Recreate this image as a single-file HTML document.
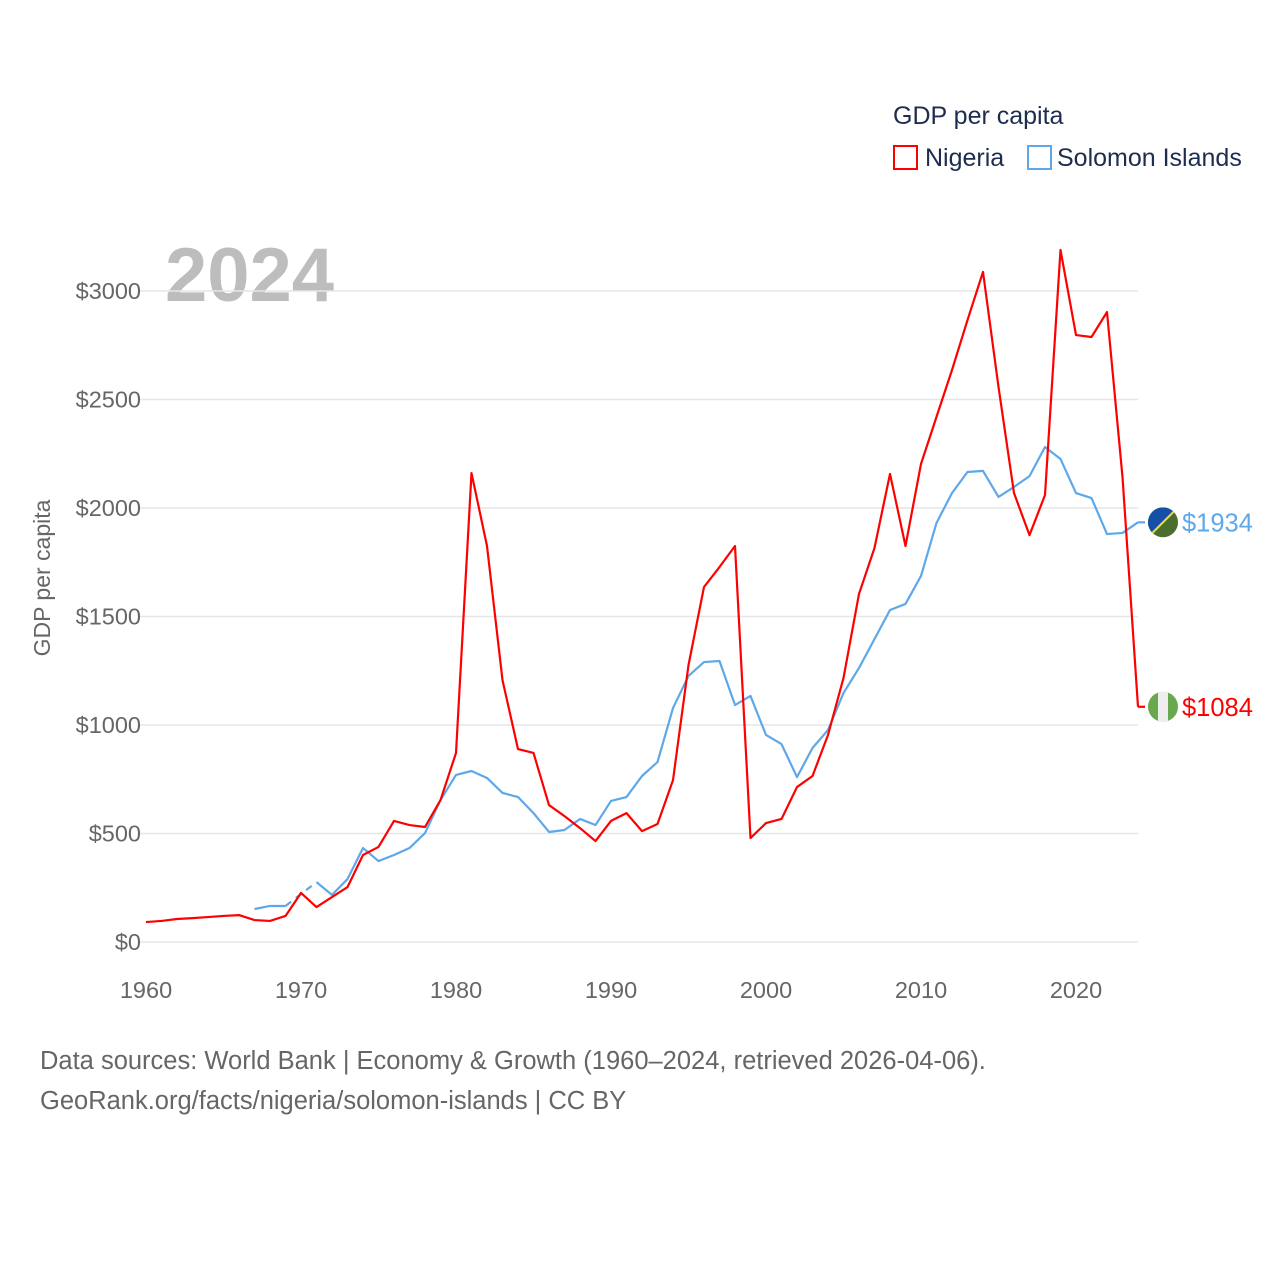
<!DOCTYPE html>
<html><head><meta charset="utf-8"><style>
html,body{margin:0;padding:0;background:#fff;}
body{width:1280px;height:1280px;overflow:hidden;font-family:"Liberation Sans",sans-serif;}
</style></head><body>
<svg id="chart" width="1280" height="1280" xmlns="http://www.w3.org/2000/svg" font-family="Liberation Sans, sans-serif">
<text x="893" y="124" font-size="25" fill="#1d2d4f">GDP per capita</text>
<rect x="894" y="146" width="23" height="23" fill="none" stroke="#ff0000" stroke-width="2"/>
<text x="925" y="166" font-size="25" fill="#1d2d4f">Nigeria</text>
<rect x="1028" y="146" width="23" height="23" fill="none" stroke="#5ea8ea" stroke-width="2"/>
<text x="1057" y="166" font-size="25" fill="#1d2d4f">Solomon Islands</text>
<text x="165" y="301" font-size="76" font-weight="bold" fill="#bdbdbd">2024</text>
<text transform="translate(50,578) rotate(-90)" text-anchor="middle" font-size="23" fill="#666">GDP per capita</text>
<g id="grid"></g><g id="yticks"></g><g id="xticks"></g><g id="series"></g><g id="endlabels"></g>
<text x="40" y="1069" font-size="25.5" fill="#666">Data sources: World Bank | Economy &amp; Growth (1960–2024, retrieved 2026-04-06).</text>
<text x="40" y="1109" font-size="25.5" fill="#666">GeoRank.org/facts/nigeria/solomon-islands | CC BY</text>
</svg>
<script>
const years=[];for(let y=1960;y<=2024;y++)years.push(y);
const nigeria=[92,97,106,110,115,120,124,101,97,120,226,161,207,253,401,438,558,539,530,654,871,2161,1825,1207,889,871,631,580,525,465,558,594,511,544,746,1276,1636,1728,1825,479,548,567,714,765,954,1217,1604,1816,2157,1825,2203,2420,2636,2866,3088,2558,2069,1875,2060,3189,2797,2788,2903,2143,1084];
const solomon=[null,null,null,null,null,null,null,152,166,166,null,276,217,290,433,373,401,433,502,654,770,788,756,687,668,594,507,516,567,539,650,668,765,829,1078,1226,1290,1295,1092,1134,954,912,760,894,977,1147,1263,1396,1530,1558,1687,1931,2069,2166,2171,2051,2097,2147,2281,2226,2069,2046,1880,1885,1934];
const yTicks=[0,500,1000,1500,2000,2500,3000];
const xTicks=[1960,1970,1980,1990,2000,2010,2020];
const NS='http://www.w3.org/2000/svg';
const X=y=>146+(y-1960)*15.5;
const Y=v=>942-v*0.217;
function mk(tag,attrs,parent,txt){const e=document.createElementNS(NS,tag);for(const k in attrs)e.setAttribute(k,attrs[k]);if(txt!==undefined)e.textContent=txt;document.getElementById(parent).appendChild(e);return e;}
yTicks.forEach(t=>{
 const l=mk('line',{x1:140,x2:1138,y1:Y(t),y2:Y(t),stroke:'#e6e6e6','stroke-width':1.5},'grid');
 
 
 const tx=mk('text',{x:141,y:Y(t)+8,'text-anchor':'end','font-size':23.5,fill:'#666'},'yticks','$'+t);
 
 
});
xTicks.forEach(t=>{
 const tx=mk('text',{x:X(t),y:998,'text-anchor':'middle','font-size':23.5,fill:'#666'},'xticks',String(t));
 
 
});
function draw(vals,color,name){
 let segs=[],cur=[];
 vals.forEach((v,i)=>{if(v==null){if(cur.length)segs.push(cur);cur=[];}else cur.push([X(years[i]),Y(v)]);});
 if(cur.length)segs.push(cur);
 segs.forEach((s,k)=>{
  const p=mk('polyline',{points:s.map(q=>q.join(',')).join(' '),fill:'none',stroke:color,'stroke-width':2.2,'stroke-linejoin':'round'},'series');
  
  
  if(k<segs.length-1){const a=s[s.length-1],b=segs[k+1][0];
   const d=mk('line',{x1:a[0],y1:a[1],x2:b[0],y2:b[1],stroke:color,'stroke-width':2.2,'stroke-dasharray':'7,6'},'series');
   
   }
 });
 const last=vals[vals.length-1];
 const t=mk('line',{x1:X(2024),y1:Y(last),x2:X(2024)+7,y2:Y(last),stroke:color,'stroke-width':2.2},'series');
 
 
 const lb=mk('text',{x:1182,y:Y(last)+9,'font-size':25.5,fill:color},'endlabels','$'+last);
 
 
 return Y(last);
}
const ys=draw(solomon,'#5ea8ea','solomon');
const yn=draw(nigeria,'#ff0000','nigeria');
const g=document.getElementById('endlabels');
g.insertAdjacentHTML('beforeend',
`<g><clipPath id="cs"><circle cx="1163" cy="${ys}" r="15"/></clipPath><g clip-path="url(#cs)"><rect x="1148" y="${ys-15}" width="30" height="30" fill="#4a6e2e"/><polygon points="1148,${ys-15} 1178,${ys-15} 1148,${ys+15}" fill="#1450a8"/><line x1="1178" y1="${ys-15}" x2="1148" y2="${ys+15}" stroke="#f0d84a" stroke-width="2"/></g></g>
<g><clipPath id="cn"><circle cx="1163" cy="${yn}" r="15"/></clipPath><g clip-path="url(#cn)"><rect x="1148" y="${yn-15}" width="30" height="30" fill="#6aa84f"/><rect x="1158" y="${yn-15}" width="10" height="30" fill="#eee"/></g></g>`);
</script>
</body></html>
